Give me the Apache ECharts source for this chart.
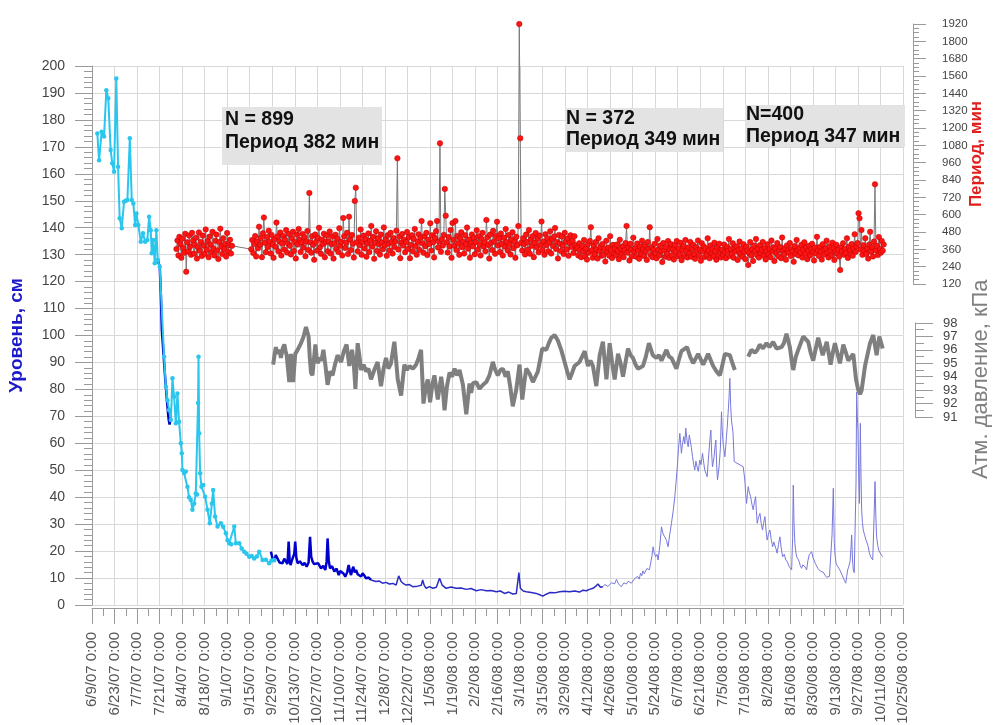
<!DOCTYPE html>
<html><head><meta charset="utf-8">
<script src="https://cdn.jsdelivr.net/npm/echarts@6/dist/echarts.min.js"></script>
<style>html,body{margin:0;padding:0;background:#fff}#c{width:994px;height:725px}</style>
</head><body><div id="c"></div>
<script>
// x values are days since 6/9/07 0:00
const xTickLabels = ['6/9/07 0:00','6/23/07 0:00','7/7/07 0:00','7/21/07 0:00','8/4/07 0:00','8/18/07 0:00','9/1/07 0:00','9/15/07 0:00','9/29/07 0:00','10/13/07 0:00','10/27/07 0:00','11/10/07 0:00','11/24/07 0:00','12/8/07 0:00','12/22/07 0:00','1/5/08 0:00','1/19/08 0:00','2/2/08 0:00','2/16/08 0:00','3/1/08 0:00','3/15/08 0:00','3/29/08 0:00','4/12/08 0:00','4/26/08 0:00','5/10/08 0:00','5/24/08 0:00','6/7/08 0:00','6/21/08 0:00','7/5/08 0:00','7/19/08 0:00','8/2/08 0:00','8/16/08 0:00','8/30/08 0:00','9/13/08 0:00','9/27/08 0:00','10/11/08 0:00','10/25/08 0:00'];

// Level, cm  [day, value]
const levelCyan = [[3.3,175],[4.4,165],[6,175.6],[7.5,173.8],[8.9,191],[10.1,188],[11.6,168.8],[12.6,163.9],[13.7,160.8],[15.1,195.4],[16.2,162.6],[17.2,143.5],[18.5,139.8],[19.9,149.6],[21,150],[22,150.3],[23.5,173.2],[24.7,150.3],[25.7,149],[26.8,141],[27.6,145.3],[28.8,141],[30.3,134.8],[31.7,137.9],[33,134.8],[34.4,135.4],[35.5,144.1],[36.5,139.1],[37.1,130.5],[38,135.4],[39,126.8],[40,139.1],[40.9,128],[42.1,125.5],[44.8,92.1],[45.9,81],[46.9,76],[47.9,72.4],[49,68.6],[50,84.1],[51,77.3],[52.1,67.4],[53.1,78.5],[54.1,68],[55.2,60],[55.8,56.3],[56.2,50.1],[57.2,49],[58.3,49.5],[59.3,43.9],[60.3,40],[61.4,39],[62.4,35.3],[63.5,37.7],[64.5,41.4],[65.3,41],[65.9,75],[66.2,92.1],[66.6,63.7],[67.2,48.9],[68,43.9],[69.1,44.5],[70.3,40.2],[71.8,35.3],[73.2,30.3],[74.5,37.7],[75.3,42.7],[76.5,32.8],[78,29.1],[80.1,30.3],[81.5,29],[83.2,26.6],[84.2,24],[85.3,22.9],[86.5,22.5],[88.4,29.1],[89.4,22.9],[91.5,22.9],[93,21],[94.6,19.8],[96,19],[97.7,17.9],[99.2,18.2],[100.8,17.3],[102.4,18],[103.9,19.8],[106,16.7],[108,16.8],[110.1,15.5],[111.5,16.5],[113.3,16.7]];
const levelDrop = [[40.9,128],[42.1,125.5],[42.8,115],[43.4,102],[44,97],[44.8,90],[45.5,84],[46.3,78],[47,73],[47.6,69],[48.2,67],[49,70]];
const levelDark = [[111.2,19.8],[112.3,17],[113.3,16.1],[114.2,18.5],[115.3,17.9],[116.5,15.8],[118.4,15.5],[119.5,17.2],[120.5,16.7],[121.5,15.2],[122.2,23.5],[122.8,17],[123.4,14.8],[124.2,16.5],[125.1,16.1],[125.7,19],[126.3,23.5],[127,17.5],[127.8,15.5],[129.2,16.2],[130.9,14.8],[132.1,15.6],[133.4,14.2],[134.6,15.8],[135.5,25.3],[136.2,18],[137.1,16.1],[138,15.2],[139.2,14.8],[140.6,15.5],[142.3,13.6],[143.7,14.5],[145,13],[145.8,16],[146.4,24.7],[147.1,16.5],[147.9,13.6],[149.2,14.4],[150.6,12.4],[152,13.5],[153.3,11.1],[154.3,12.6],[155.4,13],[156.4,11.6],[157.4,10.5],[158.6,12.2],[159.5,14.8],[160.3,12.4],[161,11.1],[161.8,13.2],[162.4,14.2],[163.3,12.1],[164.1,13],[165.1,11.4],[166.1,11.8],[167.2,10.6],[168.2,11.8],[169.3,10.9],[170.3,9.9],[171.9,10.2],[173.4,9.3]];
const levelMid = [[173.4,9.3],[176.5,8.7],[178.5,8.9],[180.6,8.1],[182.7,8.4],[184.8,7.8],[187,8],[189,7.4],[190.6,10.8],[192.1,8.7],[193.6,7.9],[195.2,7.4],[197.3,7.6],[199.3,6.8],[202.4,7],[204.6,7.3],[205.5,9.3],[206.5,7.2],[207.7,6.2],[209.7,6.8],[211.8,6.2],[214,6.6],[216,9.9],[217.6,7.4],[220.1,6.2],[223.2,6.7],[226.3,6.2],[229.4,6.3],[232.5,5.8],[235.6,6.1],[238.8,5.3],[241.9,5.7],[245,5.3],[248.1,5.4],[251.2,4.9],[253.8,5.2],[256.4,4.3],[259,4.8],[261.5,4.1],[263.7,4.3],[265.3,12],[266.2,6.2],[268,5.2],[269.9,4.9],[273,4.6],[276.1,4.3],[278.2,3.8],[280.2,3.3],[282.3,4],[284.4,4.6],[287.5,4.5],[290.6,4.9],[293.7,5.1],[296.8,4.9],[299.9,5.2],[303,4.8],[305.1,5.5],[307.2,5.3],[309.2,5.8],[311.3,6.2],[313,6.9],[314.4,7.8],[316,6.6],[317.5,6.8]];
const levelLight = [[317.5,6.8],[318.6,7.6],[319.6,7.9],[320.6,6.9],[321.7,7.4],[322.8,8.2],[323.8,8.6],[324.9,7.9],[325.9,9.5],[327.4,7.6],[329,6.8],[330.5,8.2],[332.1,7.8],[333.2,8.8],[334.2,9.1],[335.2,8.1],[336.2,8.6],[337.8,10.2],[339.3,10.5],[340.1,9.6],[340.9,11.8],[341.7,10.9],[342.4,12.7],[343.2,11.6],[344,11.4],[344.8,13.5],[345.6,14.2],[346.4,13.1],[347.2,15.6],[348,18.2],[348.7,21.6],[349.5,19],[350.3,17.9],[351.1,18.8],[351.8,16.7],[352.9,22],[353.9,29],[354.9,26.4],[355.9,25.3],[357,24],[358,21.6],[359,26],[360.1,30.3],[361.2,35],[362.2,40.2],[363.6,50.1],[364.5,58],[365.3,63.7],[365.8,60.2],[366.3,56.3],[367,60],[367.8,62.5],[368.4,59.8],[369,65.6],[369.8,61],[370.5,58.7],[371.2,63.1],[371.9,62.5],[372.5,58.4],[373.2,55],[373.9,52.2],[374.6,50.1],[375.3,53.4],[376,51.3],[376.8,49.6],[377.7,53.8],[378.5,52.1],[379.4,56.3],[380.1,53],[380.8,50.1],[381.5,48.9],[382.3,47.6],[382.9,52.8],[383.5,57.5],[384.1,62],[384.6,64.9],[385.1,56],[385.6,51.3],[386.1,53.1],[386.6,55],[387.1,58.4],[387.7,61.2],[388.2,52],[388.7,46.4],[389.2,48.7],[389.7,51.3],[390.5,58],[391.2,71.7],[391.7,64.5],[392.2,60],[392.7,57.8],[393.3,55],[393.8,58.6],[394.3,62.5],[394.8,66.4],[395.3,71.1],[395.9,77],[396.4,84.1],[396.9,74],[397.4,68.6],[397.9,66.2],[398.4,63.7],[399.1,53.2],[404.7,51.3],[405.2,48.8],[405.7,46.4],[406.2,41.5],[406.8,37.7],[407.3,41],[407.8,43.9],[408.5,41.7],[409.3,40.2],[410.1,37.4],[410.9,35.3],[411.7,38.3],[412.4,40.2],[412.9,34.6],[413.4,30.3],[414.2,32.5],[415.1,34],[415.9,30.2],[416.7,27.8],[417.4,30.6],[418.2,32.8],[418.9,27.5],[419.6,24.1],[420.4,26.3],[421.3,27.8],[422.1,24.3],[423,21.6],[423.7,23.4],[424.4,22.9],[425.1,20.8],[425.8,19.2],[426.6,22.4],[427.5,25.3],[428.3,21.2],[429.2,17.9],[430.2,18.8],[431.2,16.7],[432.2,15.9],[433.3,14.2],[434.1,13.7],[434.8,13],[435.4,25],[435.8,44.5],[436.3,30],[436.8,22.9],[437.4,19.6],[437.9,17.9],[438.7,17.1],[439.5,16.1],[440.2,14.5],[441,13.6],[441.7,14.9],[442.4,15.5],[443.2,14.1],[444.1,13],[444.9,16.4],[445.7,18.6],[446.5,18.1],[447.2,19.8],[448,17.8],[448.7,16.7],[449.5,15.4],[450.3,14.8],[451.1,13.6],[452,13],[452.7,12.5],[453.4,11.8],[454.4,12.2],[455.5,11.1],[456.5,10.3],[457.6,9.9],[458.3,10.6],[459,11.1],[459.9,26],[460.7,43.3],[461.3,22.9],[461.8,18.4],[462.4,15.5],[463.1,14.6],[463.8,14.2],[464.5,13.3],[465.3,13],[466.1,11.2],[466.9,10.5],[467.6,9.1],[468.4,8.1],[469,10.5],[469.6,13],[470.3,14.3],[471.1,16.1],[471.6,20.5],[472.1,26],[472.6,17.1],[473.1,13],[473.7,12],[474.4,12.4],[474.8,45],[475.2,79],[475.6,70.2],[476,64.9],[476.5,48],[476.9,37.7],[477.2,52],[477.5,67.4],[477.9,48],[478.3,35.3],[478.8,30.6],[479.3,27.8],[480.1,26.1],[481,24.1],[481.7,23],[482.4,21.6],[483.1,19.4],[483.9,17.9],[484.5,17.4],[485.2,16.7],[485.9,30],[486.6,45.8],[487.1,33.4],[487.6,25.3],[488.3,22.1],[488.9,20.4],[489.5,19.6],[490.1,19.2],[490.8,18.4],[491.4,17.9]];

// Period, min: segments [startDay, endDay] with event period values
const periodSeg1aDays = [52.5, 87];
const periodSeg1a = [362,421,318,447,395,301,433,369,336,468,205,409,345,456,379,322,474,420,331,391,
441,296,373,477,350,411,313,455,386,329,498,358,417,305,448,392,340,481,366,318,
419,462,352,293,410,503,379,327,437,363,398,310,473,345,389,426,331,384];
const periodSeg1bDays = [99, 301];
const periodSeg1b = [361,425,334,398,452,311,414,367,517,392,438,306,471,580,405,340,446,375,489,413,
332,460,394,301,431,378,545,449,346,415,476,318,401,452,359,427,493,338,399,466,
384,325,436,482,349,411,297,462,393,501,426,341,408,467,372,444,312,413,487,356,
750,409,337,451,391,288,463,412,350,439,509,374,329,427,397,468,305,410,455,347,
414,483,331,396,448,296,402,461,363,433,342,506,384,412,318,577,451,369,406,475,
327,586,428,355,459,399,303,695,787,409,346,441,388,497,322,411,455,366,431,309,
401,470,342,421,522,380,447,295,405,485,349,436,395,324,462,407,361,512,388,429,
315,458,399,352,474,411,331,438,376,414,489,990,359,448,299,405,466,386,427,340,
411,480,363,444,298,390,458,347,432,501,383,323,412,464,356,441,556,402,336,451,
382,474,320,426,397,540,352,457,409,304,439,486,556,373,413,1094,343,430,386,460,
778,593,409,338,446,380,494,301,542,425,384,556,355,453,401,322,437,478,375,413,
331,458,396,511,364,428,302,404,463,381,440,326,411,492,357,451,392,318,431,474,
380,409,347,563,443,389,296,462,406,355,488,414,329,452,551,386,436,342,469,398,
318,440,379,500,410,352,459,391,325,428,479,368,412,301,447,388,521,1920,1129,405,
352,437,396,325,462,410,358,494,330,429,384,452,306,406,473,374,433,339,456,391,
552,356,415,322,464,389,437,346,408,485,331,431,383,449,508,362,411,297,460,399,
349,448,386,327,474,414,358,435,316,404,457,376,420,335,451,388,365];
const periodSeg2Days = [301.6, 391];
const periodSeg2 = [371,318,402,356,305,384,347,425,311,365,289,395,336,418,513,354,302,388,327,410,
359,296,437,349,378,315,397,322,362,276,419,340,372,316,451,355,300,391,331,368,
319,393,350,292,426,362,326,381,306,355,403,522,337,373,283,399,357,312,441,347,
370,309,400,351,295,379,328,420,362,313,389,346,287,410,364,513,321,375,306,356,
398,332,298,432,358,317,386,348,272,403,353,308,377,329,417,301,364,396,319,360,
290,391,345,418,312,367,325,405,285,356,385,314,425,350,304,373,331,411,309,363,
392,324,294,376,353,421,316,359,281,402,347,380,307,366,320,436,351,298,387,332,
363,311,406,348,288,375,318,399,356,304];
const periodSeg3Days = [391.6, 492];
const periodSeg3 = [356,322,393,340,299,377,351,431,313,362,328,402,301,366,345,381,287,357,414,323,
364,308,396,344,292,379,352,252,333,410,317,360,280,386,348,432,320,364,303,389,
335,357,411,315,369,290,348,395,325,361,306,421,346,374,279,365,334,403,312,355,
376,299,442,349,326,368,288,387,352,336,403,314,362,344,274,383,328,425,355,318,
369,338,392,303,358,409,330,374,292,348,385,317,360,398,341,283,372,333,447,353,
314,377,347,289,396,357,324,366,420,338,304,381,351,318,406,368,286,345,392,330,
359,310,217,375,348,402,322,363,335,436,300,378,352,326,397,316,366,464,342,381,
403,610,575,358,494,322,389,352,437,327,366,296,394,481,344,376,311,414,810,354,
384,320,445,362,337,418,351,393];

// Atmospheric pressure, kPa [day, value]
const pressureA = [[112.6,94.9],[113.4,95.6],[114.3,96.2],[115.3,95.7],[116.4,96.0],[117.4,95.4],[118.5,96.1],[119.5,96.4],[120.3,95.9],[121,95.6],[122.6,93.6],[123.6,95.7],[124.3,94.6],[125,93.6],[126.3,95.7],[127.8,96.0],[129.9,96.5],[131.5,97.0],[133,97.7],[134.6,97.0],[135.3,95.5],[136.1,94.3],[137,94.1],[138.8,96.4],[139.5,95.6],[140.2,95.0],[141.5,95.4],[142.6,95.2],[143.8,96.0],[145.1,94.8],[146.4,93.4],[148,94.4],[149.5,94.1],[151,94.9],[152.6,95.6],[154.8,95.1],[156.5,95.9],[158.2,96.4],[159.9,94.8],[161.6,96.0],[162.6,95.1],[163.7,93.1],[165.1,96.5],[166.2,95.5],[167.2,94.5],[168.8,94.9],[170.3,94.4],[171.8,94.6],[173.4,93.8],[175.4,94.5],[177.5,95.1],[179.6,93.3],[181.2,94.6],[182.7,95.4],[184.2,94.6],[185.8,95.0],[187.9,96.6],[189,95.2],[190,93.8],[192.1,92.6],[194.1,94.9],[195.7,94.5],[197.3,94.8],[199.4,94.6],[201.4,94.9],[203,95.4],[204.5,96.0],[206,92.0],[207.4,93.2],[208.7,93.8],[210.1,92.1],[211.5,93.4],[212.8,94.1],[214.9,92.3],[217,94.0],[218,93.1],[219.1,91.5],[220.6,93.3],[222.2,94.3],[223.8,94.0],[225.3,94.6],[226.9,94.1],[228.4,94.5],[230.5,93.4],[232.6,91.2],[234.6,93.5],[235.6,92.8],[236.7,93.5],[238.8,93.6],[240.8,93.1],[243,93.4],[245,93.6],[247,94.1],[249.1,95.1],[250.6,94.5],[252.2,94.1],[253.8,94.5],[255.3,94.6],[257,94.0],[258.4,94.4],[260,93.2],[261.5,91.8],[263.6,93.0],[265.7,94.9],[267.4,92.3],[268.7,93.6],[269.9,94.6],[272,94.2],[274,93.6],[275.6,94.0],[277.1,94.4],[279.8,96.1],[282.3,96.0],[283.9,96.5],[285.4,96.9],[287.5,97.1],[289.5,96.7],[291.6,96.0],[293.7,95.1],[295.3,94.4],[296.8,93.8],[298.4,94.3],[299.9,94.8],[303,95.1],[304.6,95.5],[306.2,95.9],[308.2,94.8],[309.8,95.2],[311.3,94.8],[313.4,93.3],[315.5,95.6],[317.5,96.6],[319.7,93.8],[321.7,96.5],[323.3,95.0],[324.8,93.8],[326.9,95.7],[328.5,95.0],[330,94.0],[333.1,96.1],[334.7,95.6],[336.2,95.4],[337.8,94.9],[339.3,94.6],[342.4,94.8],[344.2,95.5],[346.1,96.5],[348.5,95.6],[350.7,95.4],[352.3,95.6],[353.9,95.2],[357,96.0],[358.6,95.5],[360.1,95.4],[363.2,94.6],[364.8,95.3],[366.3,95.9],[369.8,96.2],[371.7,95.5],[373.6,95.0],[376.7,95.7],[379.8,94.9],[381.4,95.3],[382.9,95.7],[386,94.8],[388.1,94.4],[390.2,94.1],[391.8,94.9],[393.3,95.7],[396.4,95.6],[398,95.0],[399.5,94.5]];
const pressureB = [[407.8,95.5],[409.8,96.0],[412,95.8],[413.5,96.0],[415,96.4],[417,96.1],[419.2,96.5],[421,96.2],[423.3,96.6],[425.4,96.1],[428.5,96.2],[430,96.5],[431.6,97.2],[433.7,96.2],[434.8,95.2],[435.8,94.5],[437.4,95.5],[438.9,96.0],[442,97.0],[445.1,96.6],[446.6,95.8],[448.2,95.2],[449.8,96.1],[451.3,96.9],[454.1,95.6],[456.6,96.6],[459,94.9],[460.4,95.8],[461.7,96.5],[464.8,95.0],[466.9,96.4],[468.5,95.8],[470,95.2],[473.1,95.7],[474.8,93.8],[476.2,93.0],[477.3,92.7],[478.3,93.0],[480.4,94.8],[483.5,96.5],[485.5,97.1],[487.6,95.6],[489.3,97.0],[491.4,96.1]];

function buildPeriod(){
  const segs = [[periodSeg1aDays, periodSeg1a],[periodSeg1bDays, periodSeg1b],[periodSeg2Days, periodSeg2],[periodSeg3Days, periodSeg3]];
  const out = [];
  segs.forEach(([days, vals]) => {
    const step = (days[1]-days[0])/(vals.length-1);
    vals.forEach((v,i) => out.push([days[0]+i*step, v]));
  });
  return out;
}

const FONT = '"Liberation Sans", Arial, sans-serif';
const gridColor = '#d9d9d9';
const axisGray = '#9a9a9a';

const chart = echarts.init(document.getElementById('c'), null, {renderer:'canvas'});
const hiddenX = (gi) => ({gridIndex:gi, type:'value', min:0, max:504, show:false,
  axisLine:{show:false, onZero:false}, axisTick:{show:false}, axisLabel:{show:false}, splitLine:{show:false}});
const gridBase = {left:92, right:91, containLabel:false, outerBoundsMode:'none'};
chart.setOption({
  animation:false,
  backgroundColor:'#fff',
  textStyle:{fontFamily:FONT},
  grid:[
    Object.assign({}, gridBase, {top:66, bottom:120}),
    Object.assign({}, gridBase, {top:24, bottom:441}),
    Object.assign({}, gridBase, {top:323, bottom:308})
  ],
  xAxis:[
    {gridIndex:0, type:'value', min:0, max:504, interval:14, offset:3,
     axisLine:{show:true, onZero:false, lineStyle:{color:axisGray}},
     axisTick:{show:true, length:16, lineStyle:{color:axisGray}},
     minorTick:{show:true, splitNumber:2, length:8, lineStyle:{color:axisGray}},
     axisLabel:{rotate:90, margin:24, fontSize:15, color:'#555', fontFamily:FONT,
       formatter:(v)=>xTickLabels[Math.round(v/14)] || ''},
     splitLine:{show:true, lineStyle:{color:gridColor, width:1}}},
    hiddenX(1), hiddenX(2)
  ],
  yAxis:[
    {gridIndex:0, type:'value', min:0, max:200, interval:10,
     name:'Уровень, см', nameLocation:'middle', nameGap:66, nameMoveOverlap:false,
     nameTextStyle:{color:'#1a1ac8', fontSize:19, fontWeight:'bold', fontFamily:FONT},
     axisLine:{show:true, onZero:false, lineStyle:{color:axisGray}},
     axisTick:{show:true, length:17, lineStyle:{color:axisGray}},
     minorTick:{show:true, splitNumber:5, length:8, lineStyle:{color:axisGray}},
     axisLabel:{margin:27, fontSize:14, color:'#444', fontFamily:FONT},
     splitLine:{show:true, lineStyle:{color:gridColor, width:1}}},
    {gridIndex:1, type:'value', position:'right', offset:10, min:120, max:1920, interval:120,
     name:'Период, мин', nameLocation:'middle', nameGap:55, nameMoveOverlap:false,
     nameTextStyle:{color:'#e0201e', fontSize:17, fontWeight:'bold', fontFamily:FONT},
     axisLine:{show:true, onZero:false, lineStyle:{color:axisGray}},
     axisTick:{show:true, length:13, lineStyle:{color:axisGray}},
     minorTick:{show:true, splitNumber:4, length:6, lineStyle:{color:axisGray}},
     axisLabel:{margin:29, fontSize:11.5, color:'#444', fontFamily:FONT, formatter:(v)=>String(v)},
     splitLine:{show:false}},
    {gridIndex:2, type:'value', position:'right', offset:12, min:91, max:98, interval:1,
     name:'Атм. давление, кПа   ', nameLocation:'middle', nameGap:55, nameMoveOverlap:false,
     nameTextStyle:{color:'#808080', fontSize:22, fontFamily:FONT},
     axisLine:{show:true, onZero:false, lineStyle:{color:axisGray}},
     axisTick:{show:true, length:18, lineStyle:{color:axisGray}},
     minorTick:{show:true, splitNumber:2, length:9, lineStyle:{color:axisGray}},
     axisLabel:{margin:28, fontSize:13, color:'#444', fontFamily:FONT, lineHeight:12, formatter:(v)=>String(v)},
     splitLine:{show:false}}
  ],
  graphic:[
    {type:'rect', z:1, shape:{x:222, y:107, width:160, height:58}, style:{fill:'#e3e3e3'}},
    {type:'text', z:2, style:{x:225, y:108, text:'N = 899\nПериод 382 мин', font:'bold 19.5px "Liberation Sans", Arial, sans-serif', fill:'#111', lineHeight:23, verticalAlign:'top'}},
    {type:'rect', z:1, shape:{x:565, y:108, width:158, height:44}, style:{fill:'#e3e3e3'}},
    {type:'text', z:2, style:{x:566, y:108, text:'N = 372\nПериод 349 мин', font:'bold 19.5px "Liberation Sans", Arial, sans-serif', fill:'#111', lineHeight:21, verticalAlign:'top'}},
    {type:'rect', z:1, shape:{x:745, y:105, width:160, height:42}, style:{fill:'#e3e3e3'}},
    {type:'text', z:2, style:{x:746, y:104, text:'N=400\nПериод 347 мин', font:'bold 19.5px "Liberation Sans", Arial, sans-serif', fill:'#111', lineHeight:22, verticalAlign:'top'}}
  ],
  series:[
    {type:'line', xAxisIndex:2, yAxisIndex:2, data:pressureA, showSymbol:false, lineStyle:{color:'#7f7f7f', width:4}, z:2},
    {type:'line', xAxisIndex:2, yAxisIndex:2, data:pressureB, showSymbol:false, lineStyle:{color:'#7f7f7f', width:4}, z:2},
    {type:'line', xAxisIndex:0, yAxisIndex:0, data:levelLight, showSymbol:false, lineStyle:{color:'#7878dc', width:1}, z:3},
    {type:'line', xAxisIndex:0, yAxisIndex:0, data:levelMid, showSymbol:false, lineStyle:{color:'#2a2ac4', width:1.5}, z:3},
    {type:'line', xAxisIndex:0, yAxisIndex:0, data:levelDark, showSymbol:false, lineStyle:{color:'#0000cc', width:2.5}, z:3},
    {type:'line', xAxisIndex:0, yAxisIndex:0, data:levelDrop, showSymbol:false, lineStyle:{color:'#0000cc', width:2.5}, z:3},
    {type:'line', xAxisIndex:0, yAxisIndex:0, data:levelCyan, symbol:'circle', symbolSize:4.5, showSymbol:true,
     itemStyle:{color:'#2ac6ee'}, lineStyle:{color:'#2ac6ee', width:2}, z:4},
    {type:'line', xAxisIndex:1, yAxisIndex:1, data:buildPeriod(), symbol:'circle', symbolSize:5.5, showSymbol:true, clip:false,
     itemStyle:{color:'#ff1414', borderColor:'#b80000', borderWidth:0.5}, lineStyle:{color:'#7a7a7a', width:1}, z:5}
  ]
});
</script></body></html>
